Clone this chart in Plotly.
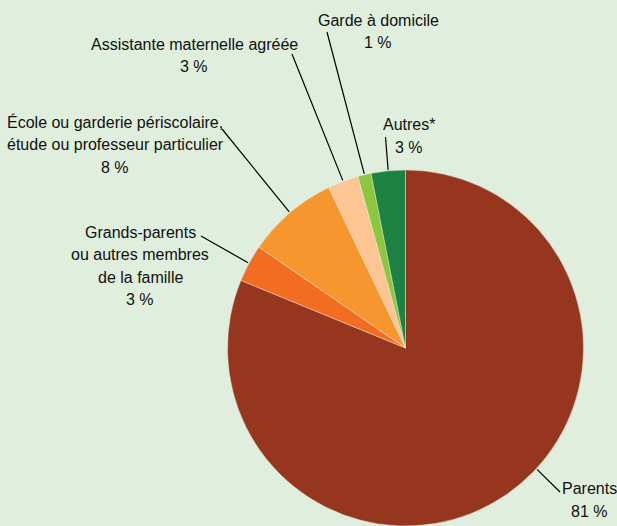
import math
import plotly.graph_objects as go

# data (share of children, %)
labels = ["Parents", "Grands-parents<br>ou autres membres<br>de la famille",
          "École ou garderie périscolaire,<br>étude ou professeur particulier",
          "Assistante maternelle agréée", "Garde à domicile", "Autres*"]
values = [81.2, 3.4, 8.3, 2.8, 1.2, 3.1]
colors = ["#96361f", "#f26d22", "#f7962e", "#fcc593", "#8dc63f", "#1e8242"]

W, H = 617, 526
BG = "#dfeedd"
FONT = "Liberation Sans, Arial, sans-serif"
LINE_H = 22.3

# pie placement (pixels)
cx, cy, R = 405.5, 348, 178

# label layout: first text line centre, leader-line outer end, where on the slice the line lands
label_pos = [
    dict(text=(589, 488.8), end=(560, 492), frac=0.454),
    dict(text=(140, 232.5), end=(201, 236), frac=0.5),
    dict(text=(115, 122.4), end=(222, 129), frac=0.5),
    dict(text=(194, 44.6), end=(292, 54), frac=0.5),
    dict(text=(378, 20.3), end=(327, 32), frac=0.5),
    dict(text=(409, 124.8), end=(385.5, 137), frac=0.5),
]

def px(x):
    return x / W

def py(y):
    return 1 - y / H

fig = go.Figure(go.Pie(
    labels=labels, values=values, sort=False, direction="clockwise",
    marker=dict(colors=colors, line=dict(color="#eef4ea", width=0.4)),
    textinfo="none", hoverinfo="label+percent", showlegend=False,
    domain=dict(x=[px(cx - R), px(cx + R)], y=[py(cy + R), py(cy - R)]),
))

total = sum(values)
start = 0.0
for lab, v, pos in zip(labels, values, label_pos):
    ang = math.radians((start + v * pos["frac"]) / total * 360)
    start += v
    ix = cx + (R + 1) * math.sin(ang)
    iy = cy - (R + 1) * math.cos(ang)
    ex, ey = pos["end"]
    fig.add_shape(type="line", xref="paper", yref="paper",
                  x0=px(ix), y0=py(iy), x1=px(ex), y1=py(ey),
                  line=dict(color="black", width=1.2))
    tx, ty = pos["text"]
    lines = lab.split("<br>") + [f"{round(v)} %"]
    for i, line in enumerate(lines):
        fig.add_annotation(x=px(tx), y=py(ty + i * LINE_H), xref="paper", yref="paper",
                           text=line, showarrow=False,
                           xanchor="center", yanchor="middle",
                           font=dict(size=16, color="#111111", family=FONT))

fig.update_layout(width=W, height=H, margin=dict(l=0, r=0, t=0, b=0),
                  paper_bgcolor=BG, plot_bgcolor=BG)
fig.write_html("out.html", config={"displayModeBar": False},
               post_script="document.body.style.margin='0';")
